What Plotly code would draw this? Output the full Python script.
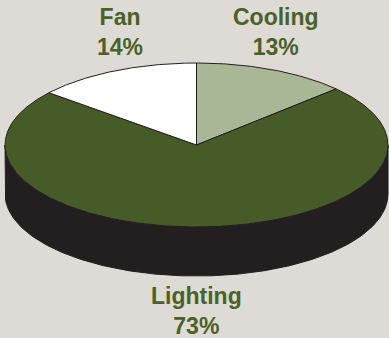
import numpy as np
import plotly.graph_objects as go

# ---- data ----
categories = ["Cooling", "Lighting", "Fan"]
values = [13, 73, 14]
pct_labels = ["13%", "73%", "14%"]

# ---- styling / layout ----
colors = {"Cooling": "#a9b797", "Lighting": "#475b29", "Fan": "#ffffff"}
side_color = "#231f20"
edge_color = "#231f20"
bg = "#dedad5"
text_color = "#4a6127"

W, H = 389, 338
cx, cy = 196.5, 145.0
rx, ry = 191.5, 82.0
depth = 49.0

label_pos = {"Cooling": (276, 32), "Lighting": (196, 311), "Fan": (120, 32)}


def ell(theta_deg, dy=0.0):
    t = np.radians(theta_deg)
    return cx + rx * np.sin(t), cy + dy - ry * np.cos(t)


fig = go.Figure()

# side (front half of the extrusion)
th_front = np.linspace(90, 270, 200)
tx, ty = ell(th_front)
bx, by = ell(th_front[::-1], depth)
fig.add_trace(go.Scatter(
    x=np.concatenate([tx, bx, tx[:1]]), y=np.concatenate([ty, by, ty[:1]]),
    mode="lines", fill="toself", fillcolor=side_color,
    line=dict(color=edge_color, width=1), hoverinfo="skip", showlegend=False))

# top slices
total = float(sum(values))
start = 0.0
for cat, v in zip(categories, values):
    span = 360.0 * v / total
    th = np.linspace(start, start + span, max(4, int(span * 2)))
    px, py = ell(th)
    fig.add_trace(go.Scatter(
        x=np.concatenate([[cx], px, [cx]]), y=np.concatenate([[cy], py, [cy]]),
        mode="lines", fill="toself", fillcolor=colors[cat],
        line=dict(color=edge_color, width=1), hoverinfo="skip", showlegend=False))
    start += span

for cat, p in zip(categories, pct_labels):
    x, y = label_pos[cat]
    fig.add_annotation(x=x, y=y, text=f"<b>{cat}<br>{p}</b>", showarrow=False,
                       font=dict(family="Liberation Sans, Arial, sans-serif", size=23, color=text_color),
                       xanchor="center", yanchor="middle", align="center")

fig.update_layout(
    width=W, height=H, margin=dict(l=0, r=0, t=0, b=0),
    paper_bgcolor=bg, plot_bgcolor=bg,
    xaxis=dict(range=[0, W], visible=False, fixedrange=True),
    yaxis=dict(range=[H, 0], visible=False, fixedrange=True),
)

fig.write_html("out.html", config={"displayModeBar": False},
               post_script="document.body.style.margin='0';document.body.style.padding='0';document.body.style.overflow='hidden';")
